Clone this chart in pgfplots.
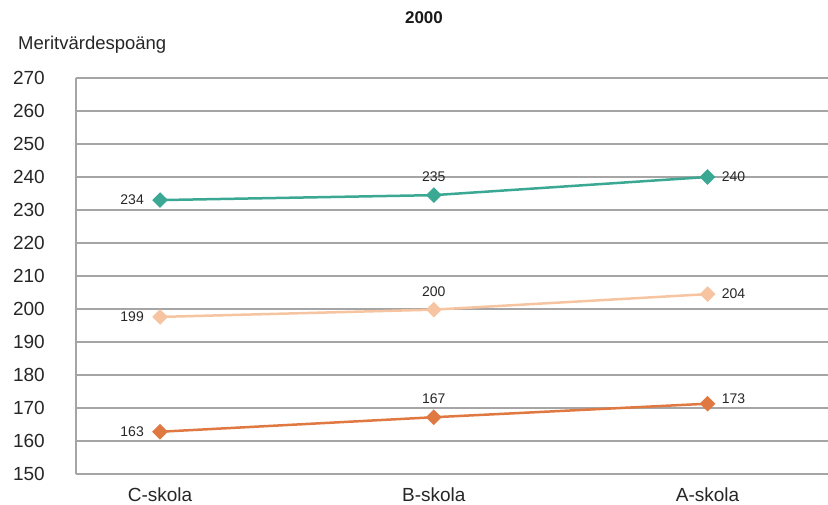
\documentclass[border=0pt]{standalone}
\usepackage{pgfplots}
\pgfplotsset{compat=1.18}
\usepackage{fontspec}
\setmainfont{Liberation Sans}
\definecolor{teal2}{RGB}{58,168,146}
\definecolor{peach}{RGB}{246,196,160}
\definecolor{orng}{RGB}{224,120,66}
\definecolor{gridg}{RGB}{165,165,165}
\begin{document}
\begin{tikzpicture}[x=1pt,y=1pt]
\useasboundingbox (-76,-31) rectangle (752,474);
\begin{axis}[
    at={(0,0)}, anchor=south west,
    scale only axis,
    width=752pt, height=396pt,
    xmin=-0.307, xmax=2.44,
    ymin=150, ymax=270,
    ytick={150,160,...,270},
    xtick={0,1,2},
    xticklabels={C-skola,B-skola,A-skola},
    major tick length=0pt,
    axis x line=bottom, axis y line=left,
    axis line style={gridg, line width=1.3pt, -},
    ymajorgrids,
    grid style={gridg, line width=1.3pt},
    tick label style={font=\fontsize{19}{22}\selectfont, text=black!85, inner sep=0pt},
    yticklabel style={anchor=east, xshift=-31pt},
    xticklabel style={anchor=north, yshift=-14pt},
    /pgf/number format/assume math mode=true,
    point meta=explicit symbolic,
    nodes near coords,
    visualization depends on={value \thisrow{anc} \as \anc},
    visualization depends on={value \thisrow{dx} \as \dx},
    visualization depends on={value \thisrow{dy} \as \dy},
    every node near coord/.append style={anchor=\anc, xshift=\dx pt, yshift=\dy pt,
        inner sep=0pt, font=\fontsize{14}{16}\selectfont, text=black!85},
    clip=false,
]
\addplot[teal2, line width=2.5pt, mark=square*, mark size=4.3pt, mark options={rotate=45}] table[x=x,y=y,meta=lab] {
x y lab anc dx dy
0 233.0 234 east -15 0
1 234.5 235 south 0 12
2 240.0 240 west 13 0
};
\addplot[peach, line width=2.5pt, mark=square*, mark size=4.3pt, mark options={rotate=45}] table[x=x,y=y,meta=lab] {
x y lab anc dx dy
0 197.6 199 east -15 0
1 199.8 200 south 0 12
2 204.5 204 west 13 0
};
\addplot[orng, line width=2.5pt, mark=square*, mark size=4.3pt, mark options={rotate=45}] table[x=x,y=y,meta=lab] {
x y lab anc dx dy
0 162.8 163 east -15 0
1 167.2 167 south 0 12
2 171.3 173 west 13 5
};
\end{axis}
\node[font=\bfseries\fontsize{17}{20}\selectfont, text=black!90] at (348,456) {2000};
\node[anchor=west, inner sep=0pt, font=\fontsize{18.5}{22}\selectfont, text=black!85] at (-58,429) {Meritvärdespoäng};
\end{tikzpicture}
\end{document}
